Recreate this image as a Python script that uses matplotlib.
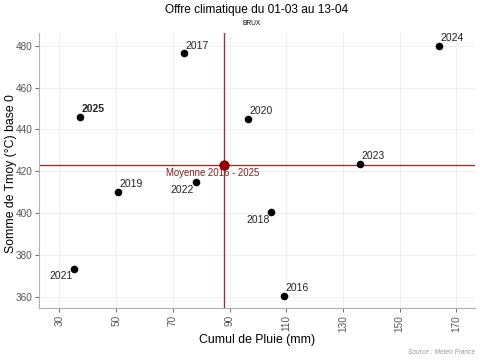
import numpy as np
import matplotlib.pyplot as plt

plt.rcParams['font.family'] = ['Liberation Sans', 'DejaVu Sans']

# data
annees = ['2016', '2017', '2018', '2019', '2020', '2021', '2022', '2023', '2024', '2025']
pluie = [109.4, 74.0, 104.6, 50.6, 96.5, 35.1, 78.0, 135.9, 164.1, 37.3]
tmoy = [360.6, 476.3, 400.5, 410.2, 445.1, 373.6, 415.0, 423.4, 479.9, 445.9]
# label side: 1 = up-right, -1 = down-left
cote = [1, 1, -1, 1, 1, -1, -1, 1, 1, 1]

moy_pluie = 87.9
moy_tmoy = 423.1

xticks = [30, 50, 70, 90, 110, 130, 150, 170]
yticks = [360, 380, 400, 420, 440, 460, 480]

rouge = '#8B3A3A'

fig = plt.figure(figsize=(4.8, 3.6), dpi=100)
ax = fig.add_axes([0.082, 0.144, 0.908, 0.764])

ax.axvline(moy_pluie, color=rouge, lw=1, zorder=2)
ax.axhline(moy_tmoy, color=rouge, lw=1, zorder=2)

ax.scatter(pluie, tmoy, s=30, color='black', zorder=3, linewidths=0)
ax.scatter([moy_pluie], [moy_tmoy], s=55, color='#8B0000', zorder=4, linewidths=0)

for a, x, y, c in zip(annees, pluie, tmoy, cote):
    w = 'bold' if a == '2025' else 'normal'
    if c > 0:
        ax.annotate(a, (x, y), xytext=(1, 2), textcoords='offset points',
                    ha='left', va='bottom', fontsize=7.5, color='#222222', fontweight=w)
    else:
        ax.annotate(a, (x, y), xytext=(-1, -2), textcoords='offset points',
                    ha='right', va='top', fontsize=7.5, color='#222222', fontweight=w)

ax.annotate('Moyenne 2016 - 2025', (moy_pluie, moy_tmoy), xytext=(-8, -2),
            textcoords='offset points', ha='center', va='top', fontsize=6.9, color='#7A2020')

ax.set_xlim(22.9, 176.7)
ax.set_ylim(354.7, 486)
ax.set_xticks(xticks)
ax.set_yticks(yticks)
ax.tick_params(axis='x', labelrotation=90)
ax.tick_params(colors='#555555', labelsize=7.2, length=3, width=0.6, pad=2)
ax.grid(True, color='#EBEBEB', lw=0.6)
ax.set_axisbelow(True)
for s in ['top', 'right']:
    ax.spines[s].set_visible(False)
for s in ['left', 'bottom']:
    ax.spines[s].set_color('#B0B0B0')
    ax.spines[s].set_linewidth(0.8)

ax.set_xlabel('Cumul de Pluie (mm)', fontsize=8.8)
ax.set_ylabel('Somme de Tmoy (°C) base 0', fontsize=8.8)
ax.xaxis.set_label_coords(0.5, -0.093)
ax.yaxis.set_label_coords(-0.052, 0.49)

fig.text(0.535, 0.99, 'Offre climatique du 01-03 au 13-04', ha='center', va='top', fontsize=8.6)
fig.text(0.525, 0.945, 'BRUX', ha='center', va='top', fontsize=4.8)
fig.text(0.99, 0.01, 'Source : Meteo France', ha='right', va='bottom', fontsize=4.8,
         style='italic', color='#999999')

fig.savefig('out.png', dpi=100)
